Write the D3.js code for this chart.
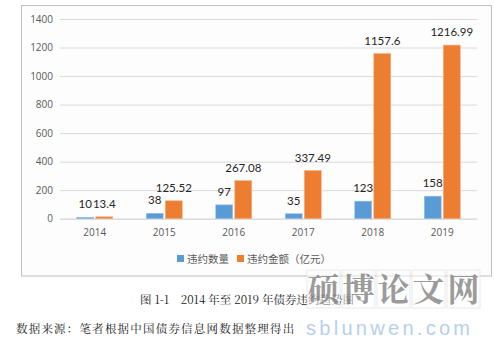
<!DOCTYPE html>
<html>
<head>
<meta charset="utf-8">
<script src="https://cdn.jsdelivr.net/npm/d3@7"></script>
<style>
  html, body { margin: 0; padding: 0; background: #fff; }
  svg { display: block; }
</style>
</head>
<body>
<svg id="chart" width="494" height="341"></svg>
<script>
// Bond default statistics, 2014–2019
const years = ["2014", "2015", "2016", "2017", "2018", "2019"];
const defaultCount = [10, 38, 97, 35, 123, 158];
const defaultAmount = [13.4, 125.52, 267.08, 337.49, 1157.6, 1216.99];
const seriesNames = ["违约数量", "违约金额（亿元）"];
const seriesColors = ["#5B9BD5", "#ED7D31"];
const yTicks = [0, 200, 400, 600, 800, 1000, 1200, 1400];

const rows = years.map((y, i) => ({ year: y, values: [defaultCount[i], defaultAmount[i]] }));

const svg = d3.select("#chart");
const sans = "'Open Sans', 'Noto Sans CJK SC', sans-serif";
const labelFont = "Lato, 'Open Sans', sans-serif";
const serif = "'Noto Serif CJK SC', 'Liberation Serif', 'Noto Sans CJK SC', serif";

// chart frame
svg.append("rect")
  .attr("x", 21.5).attr("y", 5.5).attr("width", 470).attr("height", 270.5)
  .attr("fill", "#fdfdfd").attr("stroke", "#BFBFBF").attr("stroke-width", 1);

const plot = { left: 60, right: 477, top: 19, bottom: 218.7 };

const x = d3.scaleBand().domain(years).range([plot.left, plot.right]).paddingInner(0).paddingOuter(0);
const xs = d3.scaleBand().domain([0, 1]).range([x.bandwidth() / 2 - 18, x.bandwidth() / 2 + 18]).paddingInner(0.11);
const y = d3.scaleLinear().domain([0, 1400]).range([plot.bottom, plot.top]);

// gridlines and y-axis labels
const yAxis = d3.axisLeft(y).tickValues(yTicks).tickSize(-(plot.right - plot.left)).tickPadding(7).tickFormat(d3.format("d"));
const gy = svg.append("g").attr("transform", `translate(${plot.left},0)`).call(yAxis);
gy.select(".domain").remove();
gy.selectAll(".tick line").attr("stroke", "#D9D9D9").attr("stroke-width", 1);
gy.selectAll(".tick text").attr("fill", "#595959").style("font-family", sans).style("font-size", "10px");

// x-axis labels
const xAxis = d3.axisBottom(x).tickSize(0).tickPadding(10);
const gx = svg.append("g").attr("transform", `translate(0,${plot.bottom})`).call(xAxis);
gx.select(".domain").attr("stroke", "#D9D9D9");
gx.selectAll(".tick text").attr("fill", "#595959").style("font-family", sans).style("font-size", "10px");

// bars
const groups = svg.append("g").selectAll("g").data(rows).join("g")
  .attr("transform", d => `translate(${x(d.year)},0)`);

groups.selectAll("rect").data(d => d.values.map((v, k) => ({ k, v }))).join("rect")
  .attr("x", d => xs(d.k))
  .attr("width", xs.bandwidth())
  .attr("y", d => y(d.v))
  .attr("height", d => y(0) - y(d.v))
  .attr("fill", d => seriesColors[d.k])
  .attr("stroke", d => d.k === 0 ? "#9cc3e8" : "#f4b183")
  .attr("stroke-width", 0.6);

// value labels
groups.selectAll("text").data(d => d.values.map((v, k) => ({ k, v }))).join("text")
  .attr("x", d => xs(d.k) + xs.bandwidth() / 2)
  .attr("y", d => y(d.v) - 9)
  .attr("text-anchor", "middle")
  .attr("fill", "#262626")
  .style("font-family", labelFont)
  .style("font-size", "11.5px")
  .text(d => d.v);

// legend
const legend = svg.append("g").attr("transform", "translate(177,253)");
const legendItems = [{ x: 0 }, { x: 60 }];
seriesNames.forEach((name, i) => {
  const g = legend.append("g").attr("transform", `translate(${legendItems[i].x},0)`);
  g.append("rect").attr("width", 7).attr("height", 7).attr("y", 2).attr("fill", seriesColors[i]);
  g.append("text").attr("x", 10).attr("y", 9.5)
    .attr("fill", "#595959").style("font-family", sans).style("font-size", "10.5px")
    .text(name);
});

// caption and source note
svg.append("text").attr("x", 140).attr("y", 304)
  .attr("fill", "#1a1a1a").style("font-family", serif).style("font-size", "11.5px")
  .text("图 1-1　2014 年至 2019 年债券违约趋势图");
svg.append("text").attr("x", 16).attr("y", 333)
  .attr("fill", "#1a1a1a").style("font-family", serif).style("font-size", "11.5px")
  .attr("letter-spacing", "1.2px")
  .text("数据来源：笔者根据中国债券信息网数据整理得出");

// site mark
const mark = svg.append("g").attr("opacity", 0.85);
const markChars = ["硕", "博", "论", "文", "网"];
markChars.forEach((c, i) => {
  const cx = 307 + i * 35;
  mark.append("rect").attr("x", cx).attr("y", 270).attr("width", 33).attr("height", 38)
    .attr("fill", "rgba(255,255,255,0.6)").attr("stroke", "#e2e2e2").attr("stroke-width", 0.8);
  mark.append("text").attr("x", cx + 16.5).attr("y", 301).attr("text-anchor", "middle")
    .attr("fill", "#8a8a8a").style("font-family", "'Noto Serif CJK SC', 'Noto Sans CJK SC', serif")
    .style("font-weight", "700").style("font-size", "32px").text(c);
});
mark.append("text").attr("x", 306).attr("y", 335)
  .attr("fill", "#a9c8ea").style("font-family", "'Liberation Sans', sans-serif")
  .style("font-size", "20px").attr("textLength", 164).text("sblunwen.com");
</script>
</body>
</html>
